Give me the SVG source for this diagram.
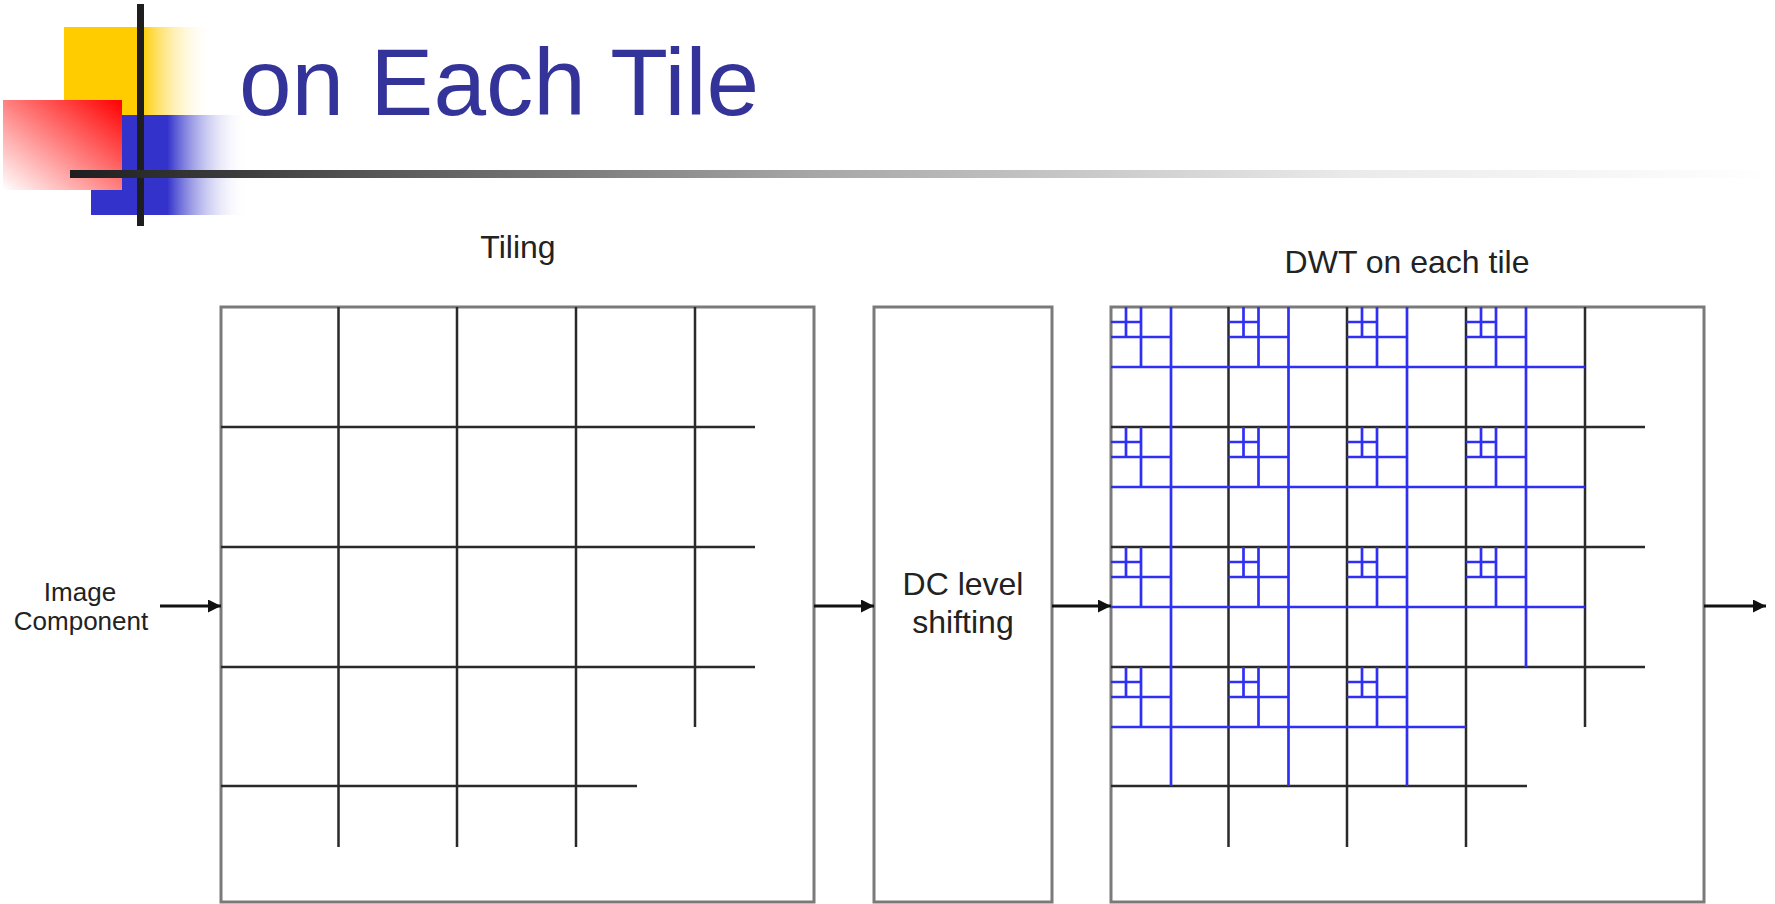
<svg xmlns="http://www.w3.org/2000/svg" xmlns:xlink="http://www.w3.org/1999/xlink" width="1775" height="904" viewBox="0 0 1775 904">
<style>
.lbl{font-family:"Liberation Sans",Arial,sans-serif;fill:#222;text-anchor:middle}
.box{fill:none;stroke:#7a7a7a;stroke-width:3}
.grid{fill:none;stroke:#2a2a2a;stroke-width:2.5}
.blue{fill:none;stroke:#3030f5;stroke-width:2.7}
.conn{stroke:#111;stroke-width:3;fill:none;marker-end:url(#arrow)}
</style>
<defs>
<linearGradient id="gYellow" x1="0" y1="0" x2="1" y2="0">
<stop offset="0" stop-color="#ffcc00"/>
<stop offset="0.52" stop-color="#ffcc00"/>
<stop offset="1" stop-color="#ffffff" stop-opacity="0"/>
</linearGradient>
<linearGradient id="gBlue" x1="0" y1="0" x2="1" y2="0">
<stop offset="0" stop-color="#3333cc"/>
<stop offset="0.49" stop-color="#3333cc"/>
<stop offset="1" stop-color="#ffffff" stop-opacity="0"/>
</linearGradient>
<linearGradient id="gRed" x1="1" y1="0" x2="0" y2="1">
<stop offset="0" stop-color="#ff0000"/>
<stop offset="1" stop-color="#ffffff"/>
</linearGradient>
<linearGradient id="gBar" gradientUnits="userSpaceOnUse" x1="70" y1="0" x2="1775" y2="0">
<stop offset="0" stop-color="#1e1e1e"/>
<stop offset="0.43" stop-color="#a5a5a5"/>
<stop offset="0.75" stop-color="#eaeaea"/>
<stop offset="1" stop-color="#ffffff"/>
</linearGradient>
<marker id="arrow" viewBox="0 0 10 10" refX="10" refY="5" markerWidth="14" markerHeight="13" markerUnits="userSpaceOnUse" orient="auto">
<path d="M0 0L10 5L0 10z" fill="#111"/>
</marker>
<path id="sub" d="M30 0V60M0 30H60M15 0V30M0 15H30"/>
</defs>

<g id="title-deco">
<rect x="64" y="27" width="149" height="88" fill="url(#gYellow)"/>
<rect x="91" y="115" width="156" height="100" fill="url(#gBlue)"/>
<rect x="3" y="100" width="119" height="90" fill="url(#gRed)"/>
<rect x="137" y="4" width="7" height="222" fill="#1e1e1e"/>
<rect x="70" y="170" width="1705" height="8" fill="url(#gBar)"/>
</g>
<g id="title">
<text x="239" y="115" font-family="'Liberation Sans',Arial,sans-serif" font-size="94.5" fill="#333399">on Each Tile</text>
</g>

<g id="input-label">
<text class="lbl" x="80" y="601" font-size="26">Image</text>
<text class="lbl" x="81" y="630" font-size="26">Component</text>
</g>

<g id="tiling">
<text class="lbl" x="518" y="258" font-size="32">Tiling</text>
<rect class="box" x="221" y="307" width="593" height="595"/>
<path class="grid" d="M338.5 307V847M457 307V847M576 307V847M695 307V727M221 427H755M221 547H755M221 667H755M221 786H637"/>
</g>

<g id="dc-shift">
<rect class="box" x="874" y="307" width="178" height="595"/>
<text class="lbl" x="963" y="595" font-size="32">DC level</text>
<text class="lbl" x="963" y="633" font-size="32">shifting</text>
</g>

<g id="dwt">
<text class="lbl" x="1407" y="273" font-size="32">DWT on each tile</text>
<rect class="box" x="1111" y="307" width="593" height="595"/>
<path class="grid" d="M1228.5 307V847M1347 307V847M1466 307V847M1585 307V727M1111 427H1645M1111 547H1645M1111 667H1645M1111 786H1527"/>
<g class="blue">
<path d="M1171 307V786M1288.5 307V786M1407 307V786M1526 307V667M1111 367H1585M1111 487H1585M1111 607H1585M1111 727H1466"/>
<use xlink:href="#sub" x="1111" y="307"/>
<use xlink:href="#sub" x="1228.5" y="307"/>
<use xlink:href="#sub" x="1347" y="307"/>
<use xlink:href="#sub" x="1466" y="307"/>
<use xlink:href="#sub" x="1111" y="427"/>
<use xlink:href="#sub" x="1228.5" y="427"/>
<use xlink:href="#sub" x="1347" y="427"/>
<use xlink:href="#sub" x="1466" y="427"/>
<use xlink:href="#sub" x="1111" y="547"/>
<use xlink:href="#sub" x="1228.5" y="547"/>
<use xlink:href="#sub" x="1347" y="547"/>
<use xlink:href="#sub" x="1466" y="547"/>
<use xlink:href="#sub" x="1111" y="667"/>
<use xlink:href="#sub" x="1228.5" y="667"/>
<use xlink:href="#sub" x="1347" y="667"/>
</g>
</g>

<g id="connectors">
<line class="conn" x1="160" y1="606" x2="221" y2="606"/>
<line class="conn" x1="814" y1="606" x2="874" y2="606"/>
<line class="conn" x1="1052" y1="606" x2="1111" y2="606"/>
<line class="conn" x1="1704" y1="606" x2="1766" y2="606"/>
</g>
</svg>
